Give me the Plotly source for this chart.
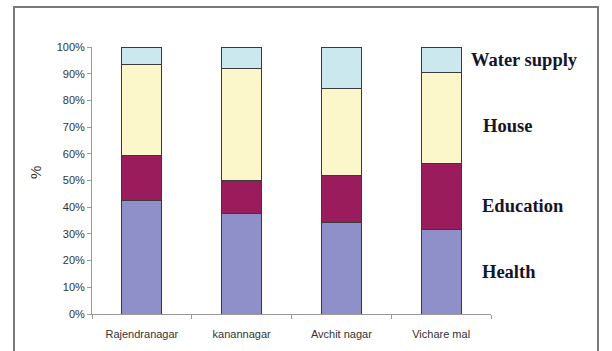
import plotly.graph_objects as go

# Share of spending by locality (%), stacked to 100
localities = ["Rajendranagar", "kanannagar", "Avchit nagar", "Vichare mal"]
health = [42.4, 37.5, 34.4, 31.8]
education = [17.0, 12.4, 17.3, 24.4]
house = [34.2, 42.2, 32.9, 34.4]
water_supply = [6.4, 7.9, 15.4, 9.4]

series_names = ["Health", "Education", "House", "Water supply"]
series_values = [health, education, house, water_supply]
series_colors = ["#8f8fc9", "#9a1c5c", "#fbf7cb", "#cbe8ef"]

y_ticks = list(range(0, 101, 10))
y_tick_labels = [f"{v}%" for v in y_ticks]

fig = go.Figure()
for name, vals, col in zip(series_names, series_values, series_colors):
    fig.add_trace(go.Bar(
        x=localities, y=vals, name=name,
        marker=dict(color=col, line=dict(color="#3a3a3a", width=1)),
    ))

W, H = 612, 351
L, R, T, B = 92, 121, 47, 37
pw, ph = W - L - R, H - T - B


def px_x(px):
    return (px - L) / pw


def px_y(py):
    return (H - B - py) / ph


axis_font = dict(family="Arial, Liberation Sans, sans-serif", size=11, color="#333333")

fig.update_layout(
    width=W, height=H,
    margin=dict(l=L, r=R, t=T, b=B),
    barmode="stack", bargap=0.6,
    showlegend=False,
    paper_bgcolor="white", plot_bgcolor="white",
    xaxis=dict(
        showline=True, linecolor="#9a9a9a", linewidth=1,
        ticks="outside", tickson="boundaries", ticklen=4, tickcolor="#9a9a9a",
        tickfont=axis_font, showgrid=False, ticklabelstandoff=10,
    ),
    yaxis=dict(
        range=[0, 100], tickvals=y_ticks, ticktext=y_tick_labels,
        showline=True, linecolor="#9a9a9a", linewidth=1,
        ticks="outside", ticklen=4, tickcolor="#9a9a9a",
        tickfont=axis_font, showgrid=False, zeroline=False,
    ),
)

# Y-axis title
fig.add_annotation(text="%", xref="paper", yref="paper",
                   x=px_x(35), y=px_y(173), textangle=-90,
                   xanchor="center", yanchor="middle", showarrow=False,
                   font=dict(family="Arial, Liberation Sans, sans-serif",
                             size=15, color="#333333"))

# Outer chart frame
fig.add_shape(type="rect", xref="paper", yref="paper",
              x0=px_x(14), x1=px_x(598), y0=px_y(354), y1=px_y(7),
              line=dict(color="#7a7a7a", width=2), layer="below")

# Series labels at the right of the bars
label_font = dict(family="Liberation Serif, Times New Roman, serif", size=18.5, color="#15152a")
labels = [("Water supply", 469, 60), ("House", 481, 126),
          ("Education", 480, 206), ("Health", 480, 272)]
for text, lx, ly in labels:
    fig.add_annotation(text=f"<b>{text}</b>", xref="paper", yref="paper",
                       x=px_x(lx), y=px_y(ly), xanchor="left", yanchor="middle",
                       showarrow=False, font=label_font)

fig.write_html("out.html")
